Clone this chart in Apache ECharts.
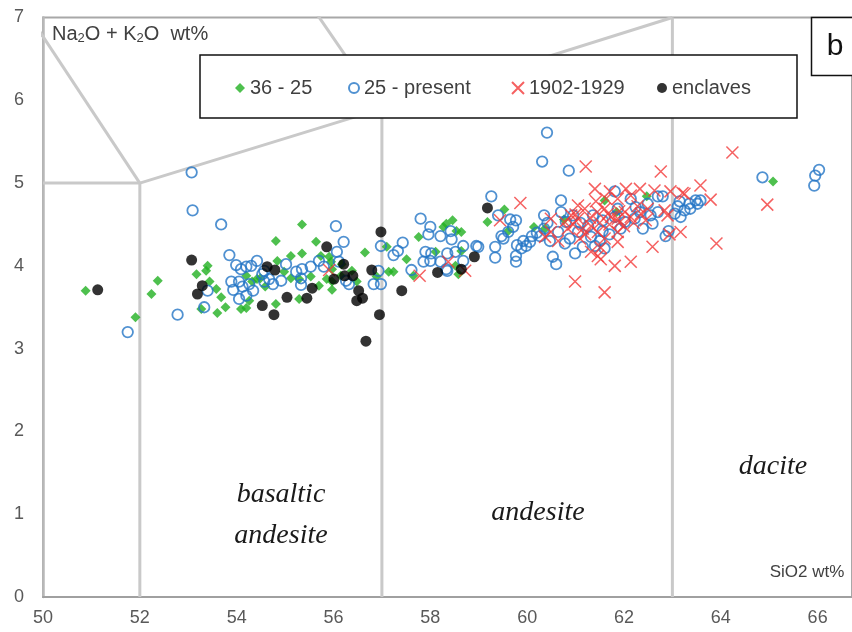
<!DOCTYPE html>
<html><head><meta charset="utf-8">
<script src="https://cdn.jsdelivr.net/npm/echarts@6/dist/echarts.min.js"></script>
<style>html,body{margin:0;padding:0;background:#fff}#c{width:852px;height:632px}</style>
</head><body><div id="c"></div>
<script>
const seriesNames = ['36 - 25', '25 - present', '1902-1929', 'enclaves'];

const green36_25 = [
 [50.88,3.70],[51.91,3.38],[52.24,3.66],[52.37,3.82],[53.17,3.90],[53.37,3.94],[53.40,4.00],[53.44,3.81],
 [53.58,3.72],[53.68,3.62],[53.77,3.50],[53.60,3.43],[53.27,3.48],[54.09,3.48],[54.20,3.49],[54.26,3.58],
 [54.20,3.88],[54.32,3.81],[54.49,3.85],[54.59,3.75],[54.81,4.30],[54.81,3.54],[54.84,4.06],[54.42,3.84],
 [55.35,4.50],[55.12,4.12],[55.35,4.15],[55.64,4.29],[54.98,3.93],[55.12,3.85],[55.29,3.84],[55.53,3.87],
 [55.70,3.76],[55.29,3.60],[55.91,4.11],[55.97,3.96],[55.97,3.81],[55.86,3.84],[55.97,3.71],[56.15,3.88],
 [56.17,4.02],[56.38,3.94],[56.48,3.81],[56.65,4.16],[56.89,3.87],[57.10,4.23],[57.14,3.93],[57.24,3.93],
 [57.51,4.08],[57.76,4.35],[58.27,4.47],[58.33,4.51],[58.46,4.55],[58.54,4.42],[58.64,4.41],[58.11,4.17],
 [58.64,4.18],[58.52,4.00],[58.58,3.90],[57.65,3.88],[59.18,4.53],[59.53,4.68],[59.61,4.42],[60.14,4.47],
 [60.37,4.45],[60.76,4.56],[61.60,4.79],[61.85,4.65],[62.47,4.84],[65.08,5.02],[55.74,4.12],[55.95,4.05]
];

const blue25_present = [
 [53.07,5.13],[53.09,4.67],[53.68,4.50],[51.75,3.20],[52.78,3.41],[53.40,3.70],[53.33,3.50],[53.85,4.13],
 [53.99,4.01],[54.09,3.96],[54.20,3.99],[54.42,4.06],[53.89,3.81],[53.93,3.71],[54.05,3.81],[54.12,3.75],
 [54.26,3.78],[54.34,3.70],[54.05,3.60],[54.20,3.64],[54.53,3.90],[54.67,3.84],[54.75,3.78],[54.30,4.00],
 [54.57,3.94],[54.57,3.81],[54.92,3.82],[55.02,4.02],[55.23,3.93],[55.35,3.96],[55.33,3.85],[55.33,3.77],
 [55.53,3.99],[55.70,4.06],[55.80,3.99],[56.07,4.17],[56.21,4.29],[56.05,4.48],[56.11,4.05],[56.26,3.82],
 [56.32,3.78],[56.83,3.78],[56.98,3.78],[56.93,3.94],[56.98,4.24],[57.24,4.13],[57.33,4.18],[57.43,4.28],
 [57.61,3.95],[57.80,4.57],[58.00,4.47],[57.96,4.38],[58.21,4.36],[57.90,4.17],[58.00,4.06],[58.21,4.05],
 [58.35,4.15],[58.42,4.42],[58.44,4.32],[58.35,3.94],[58.68,4.24],[58.68,4.06],[58.99,4.23],[59.34,4.23],
 [59.34,4.10],[59.26,4.84],[59.47,4.36],[59.65,4.56],[59.77,4.55],[59.71,4.47],[59.79,4.25],[59.88,4.21],
 [59.77,4.12],[59.77,4.05],[59.98,4.24],[60.06,4.29],[60.41,5.61],[60.31,5.26],[60.86,5.15],[60.35,4.61],
 [60.35,4.45],[60.27,4.36],[60.47,4.30],[60.53,4.11],[60.60,4.02],[60.70,4.79],[60.70,4.65],[60.80,4.53],
 [60.95,4.61],[60.64,4.41],[60.78,4.27],[60.88,4.33],[61.05,4.41],[60.99,4.15],[61.15,4.23],[61.32,4.35],
 [61.40,4.24],[61.50,4.30],[61.56,4.42],[61.56,4.55],[61.36,4.61],[61.26,4.48],[61.60,4.21],[61.81,4.90],
 [61.87,4.69],[61.81,4.59],[62.02,4.53],[61.93,4.45],[62.14,4.81],[62.24,4.71],[62.22,4.57],[62.33,4.65],
 [62.39,4.45],[62.55,4.61],[62.59,4.51],[62.70,4.84],[62.80,4.84],[62.70,4.65],[62.49,4.75],[62.86,4.36],
 [62.92,4.42],[63.05,4.63],[63.11,4.72],[63.15,4.78],[63.25,4.67],[63.17,4.59],[63.35,4.75],[63.37,4.69],
 [63.48,4.79],[63.58,4.79],[63.52,4.75],[64.86,5.07],[66.03,5.16],[65.95,5.09],[65.93,4.97],[57.86,4.05],
 [59.40,4.61],[59.61,4.41],[59.51,4.33],[58.02,4.15],[58.52,4.17],[58.33,3.96],[58.95,4.24],[60.20,4.40],
 [60.10,4.36],[59.92,4.30],[60.42,4.52],[61.10,4.52],[61.70,4.38]
];

const red1902_1929 = [
 [55.91,3.95],[57.78,3.88],[58.37,4.05],[58.72,3.94],[59.44,4.55],[59.86,4.76],[61.21,5.20],[64.24,5.37],
 [62.76,5.14],[63.58,4.97],[63.79,4.80],[64.96,4.74],[63.91,4.27],[63.17,4.41],[62.94,4.38],[62.59,4.23],
 [62.14,4.05],[61.81,4.00],[60.99,3.81],[61.60,3.68],[61.46,4.12],[61.87,4.29],[61.40,4.93],[61.71,4.90],
 [62.04,4.93],[62.33,4.93],[62.63,4.91],[62.96,4.90],[63.25,4.87],[61.42,4.78],[61.60,4.69],[61.73,4.59],
 [61.87,4.57],[62.02,4.65],[62.14,4.59],[62.28,4.72],[62.35,4.63],[62.49,4.69],[61.87,4.41],[61.32,4.48],
 [61.05,4.57],[60.84,4.45],[60.64,4.30],[60.49,4.41],[60.37,4.35],[61.60,4.33],[61.32,4.17],[61.15,4.45],
 [60.78,4.53],[60.49,4.57],[61.05,4.73],[61.19,4.69],[60.91,4.61],[61.67,4.63],[61.63,4.81],[61.87,4.81],
 [62.14,4.85],[61.52,4.08],[61.09,4.33],[63.21,4.88],[62.90,4.61],[62.84,4.67],[61.52,4.22],[61.46,4.41],
 [61.00,4.62],[61.30,4.58],[61.50,4.52],[61.70,4.50],[61.90,4.52],[62.00,4.48],[62.20,4.52],[61.45,4.65],
 [61.90,4.66],[60.95,4.50],[61.20,4.38],[62.45,4.55]
];

const enclaves = [
 [51.13,3.71],[53.07,4.07],[53.29,3.76],[53.19,3.66],[54.53,3.52],[54.77,3.41],[54.63,3.99],[54.79,3.95],
 [55.04,3.62],[55.45,3.61],[55.56,3.73],[55.86,4.23],[56.01,3.84],[56.21,4.02],[56.23,3.88],[56.40,3.88],
 [56.52,3.70],[56.60,3.61],[56.48,3.58],[56.67,3.09],[56.98,4.41],[56.79,3.95],[56.95,3.41],[57.41,3.70],
 [58.15,3.92],[58.64,3.96],[58.91,4.11],[59.18,4.70]
];

// TAS field boundaries (SiO2, Na2O+K2O)
const boundaries = [
 [[50,5],[52,5]],
 [[49.4,7.3],[52,5]],
 [[52,0],[52,5]],
 [[52,5],[57,5.9]],
 [[57,0],[57,5.9]],
 [[57,5.9],[63,7]],
 [[63,0],[63,7]],
 [[53,9.3],[57,5.9]]
];

const rockNames = [
 {text:'basaltic', x:281, y:495},
 {text:'andesite', x:281, y:536},
 {text:'andesite', x:538, y:513},
 {text:'dacite', x:773, y:467}
];

const chart = echarts.init(document.getElementById('c'));

const lineSeries = boundaries.map(seg => ({
  type:'line', data:seg, showSymbol:false, symbol:'none', silent:true, clip:true, z:1,
  lineStyle:{color:'#c9c9c9', width:3}, animation:false
}));

const markerSeries = [
  {name:seriesNames[0], type:'scatter', data:green36_25, symbol:'diamond', symbolSize:10,
   itemStyle:{color:'#22b022'}, z:3},
  {name:seriesNames[1], type:'scatter', data:blue25_present, symbol:'circle', symbolSize:10.5,
   itemStyle:{color:'rgba(0,0,0,0)', borderColor:'#2475c6', borderWidth:1.8}, z:4},
  {name:seriesNames[2], type:'scatter', data:red1902_1929, symbol:'path://M0,0L10,10M10,0L0,10', symbolSize:12,
   itemStyle:{color:'rgba(0,0,0,0)', borderColor:'#f23a3a', borderWidth:1.5}, z:5},
  {name:seriesNames[3], type:'scatter', data:enclaves, symbol:'circle', symbolSize:11,
   itemStyle:{color:'#000'}, z:6}
];

const legendLefts = [235, 348, 511, 657];
const legendTop = 78;
const legendFont = {fontSize:20, color:'#404040', fontFamily:'Liberation Sans, Arial, sans-serif'};

chart.setOption({
  animation:false,
  backgroundColor:'#fff',
  grid:{left:43, top:17.5, right:-3, bottom:35, show:true, borderColor:'#a8a8a8', borderWidth:2},
  xAxis:{type:'value', min:50, max:66.71, interval:2,
    axisLine:{show:true, lineStyle:{color:'#a0a0a0', width:2}},
    axisTick:{show:false}, splitLine:{show:false},
    axisLabel:{fontSize:18, color:'#595959', fontFamily:'Liberation Sans Narrow, Arial Narrow, sans-serif', margin:12, showMaxLabel:false}},
  yAxis:{type:'value', min:0, max:7, interval:1,
    axisLine:{show:true, lineStyle:{color:'#b8b8b8', width:2.5}},
    axisTick:{show:false}, splitLine:{show:false},
    axisLabel:{fontSize:18, color:'#595959', fontFamily:'Liberation Sans Narrow, Arial Narrow, sans-serif', margin:19}},
  legend: seriesNames.map((n,i)=>({
    data:[n], left:legendLefts[i], top:legendTop, z:20, padding:0,
    itemWidth: i===2 ? 12 : 10, itemHeight: i===2 ? 12 : 10,
    textStyle:legendFont, selectedMode:false
  })),
  graphic:[
    {type:'rect', z:10, shape:{x:200, y:55, width:597, height:63}, style:{fill:'#fff', stroke:'#111', lineWidth:1.5}},
    {type:'rect', z:10, shape:{x:811.5, y:17.5, width:60, height:58}, style:{fill:'#fff', stroke:'#111', lineWidth:1.5}},
    {type:'text', z:11, x:835, y:47, style:{text:'b', fontSize:30, fill:'#111', fontFamily:'Liberation Sans, Arial, sans-serif', align:'center', verticalAlign:'middle'}},
    {type:'text', z:11, x:52, y:34, style:{
      text:'{a|Na}{s|2}{a|O + K}{s|2}{a|O  wt%}',
      fill:'#404040', verticalAlign:'middle',
      rich:{a:{fontSize:20, fill:'#404040', fontFamily:'Liberation Sans, Arial, sans-serif'},
            s:{fontSize:13, fill:'#404040', fontFamily:'Liberation Sans, Arial, sans-serif', padding:[8,0,0,0]}}
    }},
    {type:'text', z:11, x:807, y:572, style:{text:'SiO2 wt%', fontSize:17, fill:'#404040', fontFamily:'Liberation Sans Narrow, Arial Narrow, sans-serif', align:'center', verticalAlign:'middle'}},
    ...rockNames.map(r=>({type:'text', z:11, x:r.x, y:r.y, style:{text:r.text, fontSize:28, fontStyle:'italic', fill:'#1a1a1a', fontFamily:'Liberation Serif, Times New Roman, serif', align:'center', verticalAlign:'middle'}}))
  ],
  series:[...lineSeries, ...markerSeries]
});
</script></body></html>
